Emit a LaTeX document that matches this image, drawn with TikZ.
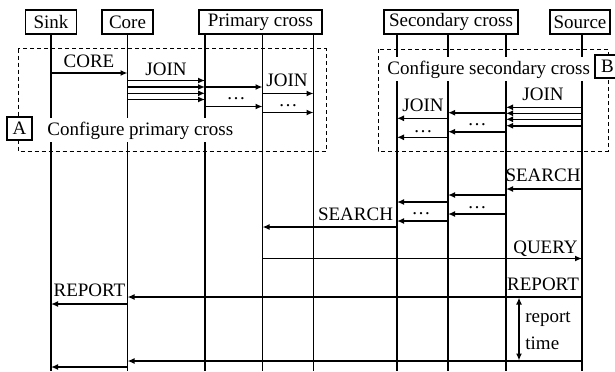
\documentclass[tikz,border=0pt]{standalone}
\usepackage{fontspec}
\setmainfont{Liberation Serif}
\usetikzlibrary{arrows.meta}
\newcommand\msgarrow[3]{\draw[msg] (#1 |- 0,#3) -- (#2 |- 0,#3);}
\begin{document}
\begin{tikzpicture}[x=0.5pt,y=-0.5pt,
  font=\fontsize{9.5}{11}\selectfont,
  hdr/.style={draw, line width=0.55pt, minimum height=12pt, inner sep=0pt},
  life/.style={line width=0.85pt},
  msg/.style={line width=0.8pt, -{Latex[length=3.5pt,width=3pt]}},
  lbl/.style={inner sep=0pt, anchor=base},
  frame/.style={dash pattern=on 2pt off 1.5pt, line width=0.5pt},
  tag/.style={draw, fill=white, line width=0.55pt, minimum width=12.5pt, minimum height=11.5pt, inner sep=0pt},
  cover/.style={fill=white, anchor=base west, inner xsep=1pt, inner ysep=1pt, text height=7.5pt, text depth=2.5pt}]
\useasboundingbox (0,0) rectangle (615,371);
% headers
\node[hdr, minimum width=25.5pt] (sink) at (51,22) {Sink};
\node[hdr, minimum width=25.5pt] (core) at (127.5,22) {Core};
\node[hdr, minimum width=61.5pt] (prim) at (260.5,22) {Primary cross};
\node[hdr, minimum width=67pt] (sec) at (451,22) {Secondary cross};
\node[hdr, minimum width=30pt] (src) at (580,22) {Source};
% lifeline ends
\coordinate (Lsink) at (51,371);
\coordinate (Lcore) at (127.5,371);
\coordinate (Lp1) at (205,371);
\coordinate (Lp2) at (262.5,371);
\coordinate (Lp3) at (313.5,371);
\coordinate (Ls1) at (397,371);
\coordinate (Ls2) at (448,371);
\coordinate (Ls3) at (506,371);
\coordinate (Lsrc) at (582,371);
% lifelines
\draw[life] (sink.south -| Lsink) -- (Lsink);
\draw[life] (core.south -| Lcore) -- (Lcore);
\draw[life] (prim.south -| Lp1) -- (Lp1);
\draw[life] (prim.south -| Lp2) -- (Lp2);
\draw[life] (prim.south -| Lp3) -- (Lp3);
\draw[life] (sec.south -| Ls1) -- (Ls1);
\draw[life] (sec.south -| Ls2) -- (Ls2);
\draw[life] (sec.south -| Ls3) -- (Ls3);
\draw[life] (src.south -| Lsrc) -- (Lsrc);
% frames
\draw[frame] (18,48.5) rectangle (326,151);
\draw[frame] (378,49) rectangle (608,151);
% primary configuration
\msgarrow{Lsink}{Lcore}{73}
\msgarrow{Lcore}{Lp1}{80.5}
\msgarrow{Lcore}{Lp1}{87}
\msgarrow{Lcore}{Lp1}{93.3}
\msgarrow{Lcore}{Lp1}{99.5}
\msgarrow{Lp1}{Lp2}{87}
\msgarrow{Lp1}{Lp2}{106.5}
\msgarrow{Lp2}{Lp3}{93.5}
\msgarrow{Lp2}{Lp3}{112.5}
\node[lbl] (tCore) at (89,67.5) {CORE};
\node[lbl] (tJoinA) at (166,75) {JOIN};
\node[lbl] (tJoinB) at (287,86) {JOIN};
\node[lbl] (dA) at (236,99.5) {\dots};
\node[lbl] (dB) at (288,106.5) {\dots};
% secondary configuration
\msgarrow{Lsrc}{Ls3}{107.3}
\msgarrow{Lsrc}{Ls3}{113.3}
\msgarrow{Lsrc}{Ls3}{119.3}
\msgarrow{Lsrc}{Ls3}{125.7}
\msgarrow{Ls3}{Ls2}{112.7}
\msgarrow{Ls3}{Ls2}{131.7}
\msgarrow{Ls2}{Ls1}{118.3}
\msgarrow{Ls2}{Ls1}{137.3}
\node[lbl] (tJoinC) at (543,100) {JOIN};
\node[lbl] (tJoinD) at (423,111.5) {JOIN};
\node[lbl] (dC) at (477,125.5) {\dots};
\node[lbl] (dD) at (423,132.5) {\dots};
% search
\msgarrow{Lsrc}{Ls3}{189}
\msgarrow{Ls3}{Ls2}{195}
\msgarrow{Ls3}{Ls2}{214}
\msgarrow{Ls2}{Ls1}{202}
\msgarrow{Ls2}{Ls1}{221}
\msgarrow{Ls1}{Lp2}{227}
\node[lbl] (tSearchA) at (543,181.5) {SEARCH};
\node[lbl] (tSearchB) at (355.5,220.5) {SEARCH};
\node[lbl] (dE) at (477,208.5) {\dots};
\node[lbl] (dF) at (421,214.5) {\dots};
% query and reports
\msgarrow{Lp2}{Lsrc}{258.5}
\node[lbl] (tQuery) at (545.5,253) {QUERY};
\msgarrow{Lsrc}{Lcore}{297}
\msgarrow{Lcore}{Lsink}{304}
\node[lbl] (tRepA) at (543,290.5) {REPORT};
\node[lbl] (tRepB) at (89.5,296.5) {REPORT};
\msgarrow{Lsrc}{Lcore}{361}
\msgarrow{Lcore}{Lsink}{367}
\coordinate (rtTop) at (519,297.5);
\coordinate (rtBot) at (519,360.5);
\draw[line width=0.8pt, {Latex[length=3.5pt,width=3pt]}-{Latex[length=3.5pt,width=3pt]}] (rtTop) -- (rtBot);
\node[inner sep=0pt, anchor=base west] (tReport) at (525,322) {report};
\node[inner sep=0pt, anchor=base west] (tTime) at (525,349) {time};
% frame captions
\node[cover] (cfgA) at (45,135) {Configure primary cross};
\node[cover] (cfgB) at (385,74) {Configure secondary cross};
\node[tag] (tagA) at (19.5,128.5) {A};
\node[tag] (tagB) at (607.5,66.5) {B};
\end{tikzpicture}
\end{document}
